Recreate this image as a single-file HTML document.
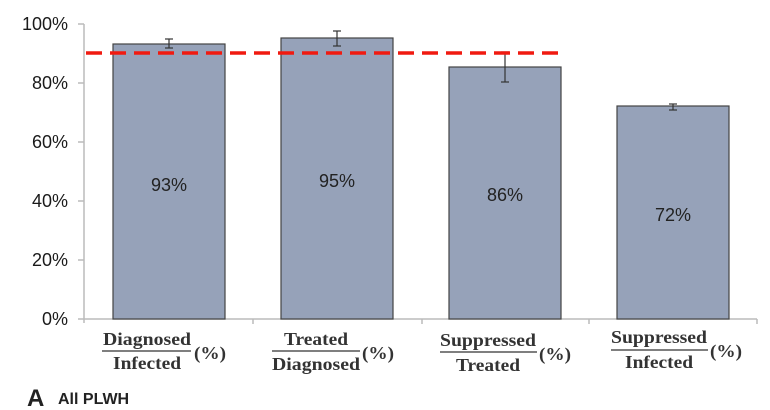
<!DOCTYPE html>
<html><head><meta charset="utf-8"><style>
html,body{margin:0;padding:0;background:#fff;width:770px;height:410px;overflow:hidden}
</style></head><body>
<svg width="770" height="410" xmlns="http://www.w3.org/2000/svg">
<g font-family="Liberation Sans, sans-serif" font-size="18" fill="#1a1a1a" text-anchor="end">
<text x="68" y="30">100%</text>
<text x="68" y="89">80%</text>
<text x="68" y="148">60%</text>
<text x="68" y="207">40%</text>
<text x="68" y="266">20%</text>
<text x="68" y="325">0%</text>
</g>
<g stroke="#bbb" stroke-width="1.5">
<line x1="84" y1="24" x2="84" y2="323"/>
<line x1="78" y1="24" x2="84" y2="24"/>
<line x1="78" y1="83" x2="84" y2="83"/>
<line x1="78" y1="142" x2="84" y2="142"/>
<line x1="78" y1="201" x2="84" y2="201"/>
<line x1="78" y1="260" x2="84" y2="260"/>
<line x1="78" y1="319" x2="757" y2="319"/>
<line x1="253" y1="319" x2="253" y2="324"/>
<line x1="422" y1="319" x2="422" y2="324"/>
<line x1="589" y1="319" x2="589" y2="324"/>
<line x1="757" y1="319" x2="757" y2="324"/>
</g>
<g fill="#96a2b9" stroke="#444" stroke-width="1.2">
<rect x="113" y="44" width="112" height="275"/>
<rect x="281" y="38" width="112" height="281"/>
<rect x="449" y="67" width="112" height="252"/>
<rect x="617" y="106" width="112" height="213"/>
</g>
<g stroke="#333" stroke-width="1.2">
<line x1="169" y1="39" x2="169" y2="48"/><line x1="165" y1="39" x2="173" y2="39"/><line x1="165" y1="48" x2="173" y2="48"/>
<line x1="337" y1="31" x2="337" y2="46"/><line x1="333" y1="31" x2="341" y2="31"/><line x1="333" y1="46" x2="341" y2="46"/>
<line x1="505" y1="52" x2="505" y2="82"/><line x1="501" y1="52" x2="509" y2="52"/><line x1="501" y1="82" x2="509" y2="82"/>
<line x1="673" y1="104" x2="673" y2="110"/><line x1="669" y1="104" x2="677" y2="104"/><line x1="669" y1="110" x2="677" y2="110"/>
</g>
<line x1="86" y1="53" x2="563" y2="53" stroke="#f01a10" stroke-width="3.5" stroke-dasharray="16,8"/>
<g font-family="Liberation Sans, sans-serif" font-size="18" fill="#222" text-anchor="middle">
<text x="169" y="191">93%</text>
<text x="337" y="187">95%</text>
<text x="505" y="201">86%</text>
<text x="673" y="221">72%</text>
</g>
<g font-family="Liberation Serif, serif" font-size="18" font-weight="bold" fill="#333" text-anchor="middle" lengthAdjust="spacingAndGlyphs">
<text x="147" y="345" textLength="88" lengthAdjust="spacingAndGlyphs">Diagnosed</text><line x1="102" y1="351" x2="191" y2="351" stroke="#333" stroke-width="1.3"/><text x="147" y="369" textLength="68" lengthAdjust="spacingAndGlyphs">Infected</text><text x="210" y="359" textLength="32" lengthAdjust="spacingAndGlyphs">(%)</text>
<text x="316" y="345" textLength="64" lengthAdjust="spacingAndGlyphs">Treated</text><line x1="272" y1="351" x2="360" y2="351" stroke="#333" stroke-width="1.3"/><text x="316" y="370" textLength="88" lengthAdjust="spacingAndGlyphs">Diagnosed</text><text x="378" y="359" textLength="32" lengthAdjust="spacingAndGlyphs">(%)</text>
<text x="488" y="346" textLength="96" lengthAdjust="spacingAndGlyphs">Suppressed</text><line x1="440" y1="352" x2="537" y2="352" stroke="#333" stroke-width="1.3"/><text x="488" y="371" textLength="64" lengthAdjust="spacingAndGlyphs">Treated</text><text x="555" y="360" textLength="32" lengthAdjust="spacingAndGlyphs">(%)</text>
<text x="659" y="343" textLength="96" lengthAdjust="spacingAndGlyphs">Suppressed</text><line x1="611" y1="350" x2="708" y2="350" stroke="#333" stroke-width="1.3"/><text x="659" y="368" textLength="68" lengthAdjust="spacingAndGlyphs">Infected</text><text x="726" y="357" textLength="32" lengthAdjust="spacingAndGlyphs">(%)</text>
</g>
<text x="27" y="406" font-family="Liberation Sans, sans-serif" font-size="24" font-weight="bold" fill="#222">A</text>
<text x="58" y="404" font-family="Liberation Sans, sans-serif" font-size="16" font-weight="bold" fill="#222">All PLWH</text>
</svg>
</body></html>
